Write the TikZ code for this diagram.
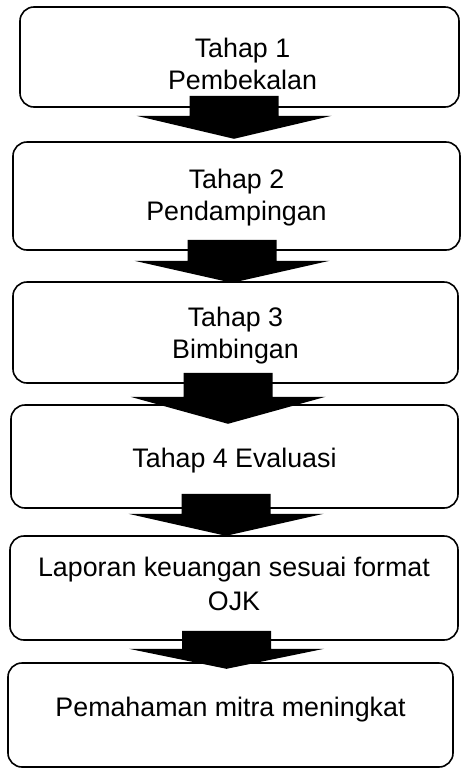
\documentclass[tikz,border=0pt]{standalone}
\usepackage{fontspec}
\setmainfont{Liberation Sans}
\usetikzlibrary{calc}

\tikzset{
	stage/.style={ draw, line width=1.6pt, rounded corners=14pt, fill=white, inner sep=0pt },
	stagetext/.style={ align=center, inner sep=0pt, font=\fontsize{26.8}{32}\selectfont },
	bigarrow/.style={ fill=black },
}

\begin{document}
\begin{tikzpicture}[ x=1pt, y=1pt ]

	\useasboundingbox (0, 0) rectangle (461, -769);

	\def\shafthalf{44.5}
	\def\headhalf{97.5}

	% stages
	\node[ stage, minimum width=439, minimum height=100 ] (b1) at (239.5, -57) {};
	\node[ stage, minimum width=447, minimum height=108 ] (b2) at (236.5, -196) {};
	\node[ stage, minimum width=445, minimum height=101 ] (b3) at (235.5, -332.5) {};
	\node[ stage, minimum width=447, minimum height=103 ] (b4) at (234.5, -456.5) {};
	\node[ stage, minimum width=448, minimum height=104 ] (b5) at (234, -588) {};
	\node[ stage, minimum width=445, minimum height=104 ] (b6) at (230.5, -715) {};

	\node[ stagetext, xshift=3, yshift=-7 ] (t1) at (b1) {Tahap 1\\Pembekalan};
	\node[ stagetext, yshift=-2 ] (t2) at (b2) {Tahap 2\\Pendampingan};
	\node[ stagetext, yshift=-3 ] (t3) at (b3) {Tahap 3\\Bimbingan};
	\node[ stagetext, yshift=-4 ] (t4) at (b4) {Tahap 4 Evaluasi};
	\node[ stagetext, yshift=4, font=\fontsize{26.8}{34}\selectfont ] (t5) at (b5) {Laporan keuangan sesuai format\\OJK};
	\node[ stagetext, yshift=5 ] (t6) at (b6) {Pemahaman mitra meningkat};

	% block arrows
	\foreach \a/\b/\xc/\st/\hb/\tp in {b1/b2/234/12/8/31, b2/b3/232/11/10/32, b3/b4/228/11/13/40, b4/b5/226/15/5/27, b5/b6/226.5/10/8/28} {
		\fill[ bigarrow ] ($(\xc,0 |- \a.south)+(-\shafthalf,\st)$) -- ($(\xc,0 |- \a.south)+(\shafthalf,\st)$)
			-- ($(\xc,0 |- \a.south)+(\shafthalf,-\hb)$) -- ($(\xc,0 |- \a.south)+(\headhalf,-\hb)$)
			-- ($(\xc,0 |- \a.south)+(0,-\tp)$)
			-- ($(\xc,0 |- \a.south)+(-\headhalf,-\hb)$) -- ($(\xc,0 |- \a.south)+(-\shafthalf,-\hb)$) -- cycle;
	}

\end{tikzpicture}
\end{document}
